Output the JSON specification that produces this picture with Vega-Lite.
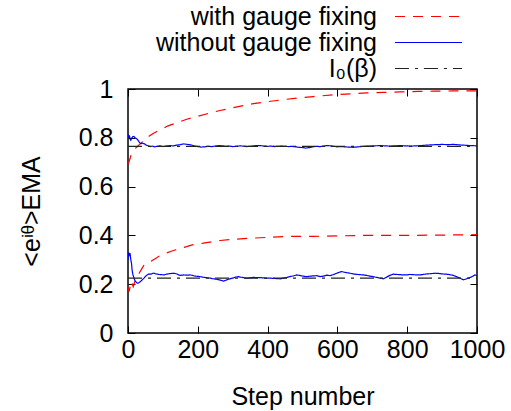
{
  "$schema": "https://vega.github.io/schema/vega-lite/v6.json",
  "width": 349,
  "height": 244,
  "autosize": {"type": "none"},
  "padding": {"left": 128, "top": 89, "right": 34, "bottom": 78},
  "config": {
    "font": "Liberation Sans",
    "view": {"stroke": "#000000", "strokeWidth": 1.5},
    "axis": {
      "grid": false,
      "domain": false,
      "tickColor": "#000000",
      "tickSize": -7,
      "tickWidth": 1,
      "labelOverlap": false,
      "labelFlush": false,
      "labelFont": "Liberation Sans",
      "labelFontSize": 25,
      "labelColor": "#000000",
      "titleFont": "Liberation Sans",
      "titleFontSize": 25,
      "titleFontWeight": "normal",
      "titleColor": "#000000"
    }
  },
  "data": {
    "values": [
      {"s":"with gauge fixing","g":"hi","x":0,"y":0.69},{"s":"with gauge fixing","g":"hi","x":3,"y":0.703},{"s":"with gauge fixing","g":"hi","x":6,"y":0.715},{"s":"with gauge fixing","g":"hi","x":9,"y":0.731},{"s":"with gauge fixing","g":"hi","x":12,"y":0.738},{"s":"with gauge fixing","g":"hi","x":16,"y":0.745},{"s":"with gauge fixing","g":"hi","x":22,"y":0.758},{"s":"with gauge fixing","g":"hi","x":29,"y":0.768},{"s":"with gauge fixing","g":"hi","x":36,"y":0.776},{"s":"with gauge fixing","g":"hi","x":46,"y":0.79},{"s":"with gauge fixing","g":"hi","x":60,"y":0.806},{"s":"with gauge fixing","g":"hi","x":72,"y":0.818},{"s":"with gauge fixing","g":"hi","x":84,"y":0.827},{"s":"with gauge fixing","g":"hi","x":100,"y":0.838},{"s":"with gauge fixing","g":"hi","x":113,"y":0.848},{"s":"with gauge fixing","g":"hi","x":141,"y":0.862},{"s":"with gauge fixing","g":"hi","x":168,"y":0.876},{"s":"with gauge fixing","g":"hi","x":200,"y":0.888},{"s":"with gauge fixing","g":"hi","x":230,"y":0.9},{"s":"with gauge fixing","g":"hi","x":264,"y":0.912},{"s":"with gauge fixing","g":"hi","x":300,"y":0.923},{"s":"with gauge fixing","g":"hi","x":330,"y":0.932},{"s":"with gauge fixing","g":"hi","x":359,"y":0.94},{"s":"with gauge fixing","g":"hi","x":400,"y":0.948},{"s":"with gauge fixing","g":"hi","x":455,"y":0.958},{"s":"with gauge fixing","g":"hi","x":493,"y":0.964},{"s":"with gauge fixing","g":"hi","x":531,"y":0.969},{"s":"with gauge fixing","g":"hi","x":588,"y":0.976},{"s":"with gauge fixing","g":"hi","x":640,"y":0.98},{"s":"with gauge fixing","g":"hi","x":684,"y":0.984},{"s":"with gauge fixing","g":"hi","x":730,"y":0.986},{"s":"with gauge fixing","g":"hi","x":779,"y":0.988},{"s":"with gauge fixing","g":"hi","x":830,"y":0.99},{"s":"with gauge fixing","g":"hi","x":875,"y":0.991},{"s":"with gauge fixing","g":"hi","x":930,"y":0.992},{"s":"with gauge fixing","g":"hi","x":1000,"y":0.992},
      {"s":"with gauge fixing","g":"lo","x":0,"y":0.19},{"s":"with gauge fixing","g":"lo","x":3,"y":0.17},{"s":"with gauge fixing","g":"lo","x":6,"y":0.19},{"s":"with gauge fixing","g":"lo","x":8,"y":0.177},{"s":"with gauge fixing","g":"lo","x":10,"y":0.195},{"s":"with gauge fixing","g":"lo","x":12,"y":0.2},{"s":"with gauge fixing","g":"lo","x":15,"y":0.19},{"s":"with gauge fixing","g":"lo","x":18,"y":0.205},{"s":"with gauge fixing","g":"lo","x":22,"y":0.218},{"s":"with gauge fixing","g":"lo","x":27,"y":0.232},{"s":"with gauge fixing","g":"lo","x":32,"y":0.245},{"s":"with gauge fixing","g":"lo","x":39,"y":0.262},{"s":"with gauge fixing","g":"lo","x":46,"y":0.279},{"s":"with gauge fixing","g":"lo","x":55,"y":0.287},{"s":"with gauge fixing","g":"lo","x":65,"y":0.293},{"s":"with gauge fixing","g":"lo","x":80,"y":0.306},{"s":"with gauge fixing","g":"lo","x":94,"y":0.32},{"s":"with gauge fixing","g":"lo","x":108,"y":0.327},{"s":"with gauge fixing","g":"lo","x":122,"y":0.334},{"s":"with gauge fixing","g":"lo","x":137,"y":0.341},{"s":"with gauge fixing","g":"lo","x":151,"y":0.348},{"s":"with gauge fixing","g":"lo","x":168,"y":0.354},{"s":"with gauge fixing","g":"lo","x":184,"y":0.361},{"s":"with gauge fixing","g":"lo","x":216,"y":0.368},{"s":"with gauge fixing","g":"lo","x":240,"y":0.374},{"s":"with gauge fixing","g":"lo","x":264,"y":0.379},{"s":"with gauge fixing","g":"lo","x":300,"y":0.384},{"s":"with gauge fixing","g":"lo","x":359,"y":0.389},{"s":"with gauge fixing","g":"lo","x":400,"y":0.392},{"s":"with gauge fixing","g":"lo","x":455,"y":0.396},{"s":"with gauge fixing","g":"lo","x":493,"y":0.396},{"s":"with gauge fixing","g":"lo","x":531,"y":0.396},{"s":"with gauge fixing","g":"lo","x":600,"y":0.398},{"s":"with gauge fixing","g":"lo","x":684,"y":0.4},{"s":"with gauge fixing","g":"lo","x":779,"y":0.4},{"s":"with gauge fixing","g":"lo","x":880,"y":0.401},{"s":"with gauge fixing","g":"lo","x":1000,"y":0.403},
      {"s":"without gauge fixing","g":"hi","x":0,"y":0.815},{"s":"without gauge fixing","g":"hi","x":2,"y":0.8},{"s":"without gauge fixing","g":"hi","x":4,"y":0.81},{"s":"without gauge fixing","g":"hi","x":6,"y":0.795},{"s":"without gauge fixing","g":"hi","x":8,"y":0.79},{"s":"without gauge fixing","g":"hi","x":11,"y":0.8},{"s":"without gauge fixing","g":"hi","x":14,"y":0.805},{"s":"without gauge fixing","g":"hi","x":17,"y":0.806},{"s":"without gauge fixing","g":"hi","x":20,"y":0.8},{"s":"without gauge fixing","g":"hi","x":23,"y":0.798},{"s":"without gauge fixing","g":"hi","x":27,"y":0.793},{"s":"without gauge fixing","g":"hi","x":31,"y":0.785},{"s":"without gauge fixing","g":"hi","x":36,"y":0.776},{"s":"without gauge fixing","g":"hi","x":41,"y":0.778},{"s":"without gauge fixing","g":"hi","x":46,"y":0.776},{"s":"without gauge fixing","g":"hi","x":52,"y":0.77},{"s":"without gauge fixing","g":"hi","x":58,"y":0.767},{"s":"without gauge fixing","g":"hi","x":64,"y":0.764},{"s":"without gauge fixing","g":"hi","x":70,"y":0.766},{"s":"without gauge fixing","g":"hi","x":76,"y":0.763},{"s":"without gauge fixing","g":"hi","x":84,"y":0.765},{"s":"without gauge fixing","g":"hi","x":92,"y":0.767},{"s":"without gauge fixing","g":"hi","x":100,"y":0.764},{"s":"without gauge fixing","g":"hi","x":110,"y":0.766},{"s":"without gauge fixing","g":"hi","x":120,"y":0.768},{"s":"without gauge fixing","g":"hi","x":130,"y":0.767},{"s":"without gauge fixing","g":"hi","x":140,"y":0.77},{"s":"without gauge fixing","g":"hi","x":150,"y":0.772},{"s":"without gauge fixing","g":"hi","x":160,"y":0.775},{"s":"without gauge fixing","g":"hi","x":170,"y":0.773},{"s":"without gauge fixing","g":"hi","x":180,"y":0.771},{"s":"without gauge fixing","g":"hi","x":190,"y":0.767},{"s":"without gauge fixing","g":"hi","x":200,"y":0.764},{"s":"without gauge fixing","g":"hi","x":210,"y":0.762},{"s":"without gauge fixing","g":"hi","x":220,"y":0.763},{"s":"without gauge fixing","g":"hi","x":230,"y":0.765},{"s":"without gauge fixing","g":"hi","x":240,"y":0.764},{"s":"without gauge fixing","g":"hi","x":250,"y":0.766},{"s":"without gauge fixing","g":"hi","x":260,"y":0.768},{"s":"without gauge fixing","g":"hi","x":270,"y":0.767},{"s":"without gauge fixing","g":"hi","x":280,"y":0.765},{"s":"without gauge fixing","g":"hi","x":290,"y":0.766},{"s":"without gauge fixing","g":"hi","x":300,"y":0.764},{"s":"without gauge fixing","g":"hi","x":310,"y":0.765},{"s":"without gauge fixing","g":"hi","x":320,"y":0.767},{"s":"without gauge fixing","g":"hi","x":330,"y":0.766},{"s":"without gauge fixing","g":"hi","x":340,"y":0.764},{"s":"without gauge fixing","g":"hi","x":350,"y":0.765},{"s":"without gauge fixing","g":"hi","x":360,"y":0.767},{"s":"without gauge fixing","g":"hi","x":370,"y":0.768},{"s":"without gauge fixing","g":"hi","x":380,"y":0.768},{"s":"without gauge fixing","g":"hi","x":390,"y":0.766},{"s":"without gauge fixing","g":"hi","x":400,"y":0.765},{"s":"without gauge fixing","g":"hi","x":410,"y":0.766},{"s":"without gauge fixing","g":"hi","x":420,"y":0.764},{"s":"without gauge fixing","g":"hi","x":430,"y":0.765},{"s":"without gauge fixing","g":"hi","x":440,"y":0.766},{"s":"without gauge fixing","g":"hi","x":450,"y":0.765},{"s":"without gauge fixing","g":"hi","x":460,"y":0.764},{"s":"without gauge fixing","g":"hi","x":470,"y":0.765},{"s":"without gauge fixing","g":"hi","x":480,"y":0.763},{"s":"without gauge fixing","g":"hi","x":490,"y":0.761},{"s":"without gauge fixing","g":"hi","x":500,"y":0.76},{"s":"without gauge fixing","g":"hi","x":510,"y":0.758},{"s":"without gauge fixing","g":"hi","x":520,"y":0.76},{"s":"without gauge fixing","g":"hi","x":530,"y":0.763},{"s":"without gauge fixing","g":"hi","x":541,"y":0.765},{"s":"without gauge fixing","g":"hi","x":550,"y":0.764},{"s":"without gauge fixing","g":"hi","x":560,"y":0.766},{"s":"without gauge fixing","g":"hi","x":570,"y":0.768},{"s":"without gauge fixing","g":"hi","x":580,"y":0.767},{"s":"without gauge fixing","g":"hi","x":590,"y":0.765},{"s":"without gauge fixing","g":"hi","x":600,"y":0.763},{"s":"without gauge fixing","g":"hi","x":610,"y":0.764},{"s":"without gauge fixing","g":"hi","x":620,"y":0.763},{"s":"without gauge fixing","g":"hi","x":630,"y":0.762},{"s":"without gauge fixing","g":"hi","x":645,"y":0.761},{"s":"without gauge fixing","g":"hi","x":660,"y":0.763},{"s":"without gauge fixing","g":"hi","x":675,"y":0.765},{"s":"without gauge fixing","g":"hi","x":690,"y":0.766},{"s":"without gauge fixing","g":"hi","x":705,"y":0.767},{"s":"without gauge fixing","g":"hi","x":722,"y":0.768},{"s":"without gauge fixing","g":"hi","x":735,"y":0.767},{"s":"without gauge fixing","g":"hi","x":750,"y":0.766},{"s":"without gauge fixing","g":"hi","x":765,"y":0.767},{"s":"without gauge fixing","g":"hi","x":780,"y":0.768},{"s":"without gauge fixing","g":"hi","x":795,"y":0.767},{"s":"without gauge fixing","g":"hi","x":810,"y":0.766},{"s":"without gauge fixing","g":"hi","x":825,"y":0.767},{"s":"without gauge fixing","g":"hi","x":840,"y":0.768},{"s":"without gauge fixing","g":"hi","x":855,"y":0.77},{"s":"without gauge fixing","g":"hi","x":870,"y":0.771},{"s":"without gauge fixing","g":"hi","x":884,"y":0.772},{"s":"without gauge fixing","g":"hi","x":900,"y":0.773},{"s":"without gauge fixing","g":"hi","x":915,"y":0.772},{"s":"without gauge fixing","g":"hi","x":932,"y":0.773},{"s":"without gauge fixing","g":"hi","x":950,"y":0.771},{"s":"without gauge fixing","g":"hi","x":970,"y":0.769},{"s":"without gauge fixing","g":"hi","x":985,"y":0.768},{"s":"without gauge fixing","g":"hi","x":1000,"y":0.767},
      {"s":"without gauge fixing","g":"lo","x":0,"y":0.3},{"s":"without gauge fixing","g":"lo","x":2,"y":0.33},{"s":"without gauge fixing","g":"lo","x":4,"y":0.32},{"s":"without gauge fixing","g":"lo","x":6,"y":0.327},{"s":"without gauge fixing","g":"lo","x":8,"y":0.3},{"s":"without gauge fixing","g":"lo","x":10,"y":0.286},{"s":"without gauge fixing","g":"lo","x":12,"y":0.255},{"s":"without gauge fixing","g":"lo","x":14,"y":0.24},{"s":"without gauge fixing","g":"lo","x":17,"y":0.225},{"s":"without gauge fixing","g":"lo","x":20,"y":0.215},{"s":"without gauge fixing","g":"lo","x":22,"y":0.211},{"s":"without gauge fixing","g":"lo","x":25,"y":0.206},{"s":"without gauge fixing","g":"lo","x":27,"y":0.204},{"s":"without gauge fixing","g":"lo","x":30,"y":0.205},{"s":"without gauge fixing","g":"lo","x":33,"y":0.208},{"s":"without gauge fixing","g":"lo","x":36,"y":0.211},{"s":"without gauge fixing","g":"lo","x":40,"y":0.217},{"s":"without gauge fixing","g":"lo","x":46,"y":0.225},{"s":"without gauge fixing","g":"lo","x":50,"y":0.232},{"s":"without gauge fixing","g":"lo","x":55,"y":0.238},{"s":"without gauge fixing","g":"lo","x":60,"y":0.242},{"s":"without gauge fixing","g":"lo","x":65,"y":0.241},{"s":"without gauge fixing","g":"lo","x":70,"y":0.244},{"s":"without gauge fixing","g":"lo","x":74,"y":0.245},{"s":"without gauge fixing","g":"lo","x":80,"y":0.242},{"s":"without gauge fixing","g":"lo","x":88,"y":0.24},{"s":"without gauge fixing","g":"lo","x":96,"y":0.239},{"s":"without gauge fixing","g":"lo","x":103,"y":0.238},{"s":"without gauge fixing","g":"lo","x":110,"y":0.241},{"s":"without gauge fixing","g":"lo","x":118,"y":0.243},{"s":"without gauge fixing","g":"lo","x":125,"y":0.244},{"s":"without gauge fixing","g":"lo","x":132,"y":0.245},{"s":"without gauge fixing","g":"lo","x":140,"y":0.242},{"s":"without gauge fixing","g":"lo","x":149,"y":0.236},{"s":"without gauge fixing","g":"lo","x":160,"y":0.238},{"s":"without gauge fixing","g":"lo","x":170,"y":0.237},{"s":"without gauge fixing","g":"lo","x":178,"y":0.238},{"s":"without gauge fixing","g":"lo","x":185,"y":0.236},{"s":"without gauge fixing","g":"lo","x":192,"y":0.233},{"s":"without gauge fixing","g":"lo","x":200,"y":0.232},{"s":"without gauge fixing","g":"lo","x":206,"y":0.231},{"s":"without gauge fixing","g":"lo","x":214,"y":0.229},{"s":"without gauge fixing","g":"lo","x":222,"y":0.227},{"s":"without gauge fixing","g":"lo","x":230,"y":0.226},{"s":"without gauge fixing","g":"lo","x":235,"y":0.225},{"s":"without gauge fixing","g":"lo","x":242,"y":0.223},{"s":"without gauge fixing","g":"lo","x":250,"y":0.221},{"s":"without gauge fixing","g":"lo","x":258,"y":0.219},{"s":"without gauge fixing","g":"lo","x":264,"y":0.217},{"s":"without gauge fixing","g":"lo","x":268,"y":0.215},{"s":"without gauge fixing","g":"lo","x":273,"y":0.213},{"s":"without gauge fixing","g":"lo","x":278,"y":0.215},{"s":"without gauge fixing","g":"lo","x":285,"y":0.219},{"s":"without gauge fixing","g":"lo","x":292,"y":0.222},{"s":"without gauge fixing","g":"lo","x":300,"y":0.225},{"s":"without gauge fixing","g":"lo","x":308,"y":0.229},{"s":"without gauge fixing","g":"lo","x":316,"y":0.231},{"s":"without gauge fixing","g":"lo","x":322,"y":0.229},{"s":"without gauge fixing","g":"lo","x":330,"y":0.227},{"s":"without gauge fixing","g":"lo","x":340,"y":0.225},{"s":"without gauge fixing","g":"lo","x":350,"y":0.226},{"s":"without gauge fixing","g":"lo","x":360,"y":0.228},{"s":"without gauge fixing","g":"lo","x":370,"y":0.227},{"s":"without gauge fixing","g":"lo","x":378,"y":0.227},{"s":"without gauge fixing","g":"lo","x":386,"y":0.226},{"s":"without gauge fixing","g":"lo","x":395,"y":0.225},{"s":"without gauge fixing","g":"lo","x":407,"y":0.225},{"s":"without gauge fixing","g":"lo","x":415,"y":0.224},{"s":"without gauge fixing","g":"lo","x":425,"y":0.223},{"s":"without gauge fixing","g":"lo","x":436,"y":0.222},{"s":"without gauge fixing","g":"lo","x":445,"y":0.225},{"s":"without gauge fixing","g":"lo","x":455,"y":0.228},{"s":"without gauge fixing","g":"lo","x":464,"y":0.231},{"s":"without gauge fixing","g":"lo","x":474,"y":0.234},{"s":"without gauge fixing","g":"lo","x":483,"y":0.238},{"s":"without gauge fixing","g":"lo","x":492,"y":0.236},{"s":"without gauge fixing","g":"lo","x":502,"y":0.233},{"s":"without gauge fixing","g":"lo","x":512,"y":0.231},{"s":"without gauge fixing","g":"lo","x":522,"y":0.233},{"s":"without gauge fixing","g":"lo","x":531,"y":0.234},{"s":"without gauge fixing","g":"lo","x":541,"y":0.235},{"s":"without gauge fixing","g":"lo","x":550,"y":0.231},{"s":"without gauge fixing","g":"lo","x":560,"y":0.233},{"s":"without gauge fixing","g":"lo","x":570,"y":0.237},{"s":"without gauge fixing","g":"lo","x":579,"y":0.235},{"s":"without gauge fixing","g":"lo","x":590,"y":0.24},{"s":"without gauge fixing","g":"lo","x":600,"y":0.246},{"s":"without gauge fixing","g":"lo","x":612,"y":0.252},{"s":"without gauge fixing","g":"lo","x":620,"y":0.249},{"s":"without gauge fixing","g":"lo","x":628,"y":0.247},{"s":"without gauge fixing","g":"lo","x":636,"y":0.245},{"s":"without gauge fixing","g":"lo","x":646,"y":0.242},{"s":"without gauge fixing","g":"lo","x":656,"y":0.24},{"s":"without gauge fixing","g":"lo","x":665,"y":0.239},{"s":"without gauge fixing","g":"lo","x":674,"y":0.238},{"s":"without gauge fixing","g":"lo","x":684,"y":0.236},{"s":"without gauge fixing","g":"lo","x":693,"y":0.233},{"s":"without gauge fixing","g":"lo","x":702,"y":0.231},{"s":"without gauge fixing","g":"lo","x":712,"y":0.228},{"s":"without gauge fixing","g":"lo","x":722,"y":0.225},{"s":"without gauge fixing","g":"lo","x":732,"y":0.222},{"s":"without gauge fixing","g":"lo","x":740,"y":0.228},{"s":"without gauge fixing","g":"lo","x":750,"y":0.236},{"s":"without gauge fixing","g":"lo","x":760,"y":0.241},{"s":"without gauge fixing","g":"lo","x":770,"y":0.24},{"s":"without gauge fixing","g":"lo","x":780,"y":0.239},{"s":"without gauge fixing","g":"lo","x":790,"y":0.238},{"s":"without gauge fixing","g":"lo","x":798,"y":0.238},{"s":"without gauge fixing","g":"lo","x":808,"y":0.24},{"s":"without gauge fixing","g":"lo","x":818,"y":0.239},{"s":"without gauge fixing","g":"lo","x":828,"y":0.238},{"s":"without gauge fixing","g":"lo","x":836,"y":0.238},{"s":"without gauge fixing","g":"lo","x":846,"y":0.24},{"s":"without gauge fixing","g":"lo","x":856,"y":0.242},{"s":"without gauge fixing","g":"lo","x":866,"y":0.243},{"s":"without gauge fixing","g":"lo","x":880,"y":0.245},{"s":"without gauge fixing","g":"lo","x":890,"y":0.244},{"s":"without gauge fixing","g":"lo","x":900,"y":0.242},{"s":"without gauge fixing","g":"lo","x":913,"y":0.241},{"s":"without gauge fixing","g":"lo","x":922,"y":0.239},{"s":"without gauge fixing","g":"lo","x":932,"y":0.236},{"s":"without gauge fixing","g":"lo","x":941,"y":0.231},{"s":"without gauge fixing","g":"lo","x":948,"y":0.227},{"s":"without gauge fixing","g":"lo","x":955,"y":0.222},{"s":"without gauge fixing","g":"lo","x":961,"y":0.218},{"s":"without gauge fixing","g":"lo","x":968,"y":0.221},{"s":"without gauge fixing","g":"lo","x":975,"y":0.225},{"s":"without gauge fixing","g":"lo","x":983,"y":0.229},{"s":"without gauge fixing","g":"lo","x":990,"y":0.234},{"s":"without gauge fixing","g":"lo","x":994,"y":0.238},{"s":"without gauge fixing","g":"lo","x":1000,"y":0.236},
      {"s":"I₀(β)","g":"hi","x":0,"y":0.765},{"s":"I₀(β)","g":"hi","x":1000,"y":0.765},
      {"s":"I₀(β)","g":"lo","x":0,"y":0.2246},{"s":"I₀(β)","g":"lo","x":1000,"y":0.2246}
    ]
  },
  "layer": [
    {
      "mark": {"type": "line", "clip": true},
      "encoding": {
        "x": {"field": "x", "type": "quantitative", "scale": {"domain": [0, 1000], "nice": false}, "axis": {"orient": "bottom", "values": [0, 200, 400, 600, 800, 1000], "format": "d", "title": "Step number", "labelPadding": 11, "titlePadding": 22}},
        "y": {"field": "y", "type": "quantitative", "scale": {"domain": [0, 1], "nice": false}, "axis": {"orient": "left", "values": [0, 0.2, 0.4, 0.6, 0.8, 1], "format": "~g", "title": "<eⁱᶿ>EMA", "labelPadding": 22, "titlePadding": 34}},
        "color": {"field": "s", "type": "nominal", "title": null, "scale": {"domain": ["with gauge fixing", "without gauge fixing", "I₀(β)"], "range": ["#ff0000", "#0000ff", "#222222"]},
          "legend": {"orient": "none", "legendX": 288, "legendY": -85, "labelAlign": "right", "labelOffset": -64, "symbolType": "M-5,0H5", "symbolSize": 180, "symbolStrokeWidth": 1.3, "labelFont": "Liberation Sans", "labelFontSize": 25, "labelColor": "#000000", "rowPadding": 0, "labelLimit": 400}},
        "strokeDash": {"field": "s", "type": "nominal", "title": null, "scale": {"domain": ["with gauge fixing", "without gauge fixing", "I₀(β)"], "range": [[10, 8], [1, 0], [14, 6, 3, 6]]}},
        "strokeWidth": {"field": "s", "type": "nominal", "legend": null, "scale": {"domain": ["with gauge fixing", "without gauge fixing", "I₀(β)"], "range": [1.2, 1.2, 2]}},
        "detail": {"field": "g"}
      }
    },
    {
      "mark": {"type": "line", "opacity": 0},
      "encoding": {
        "x": {"field": "x", "type": "quantitative", "axis": {"orient": "top", "values": [0, 200, 400, 600, 800, 1000], "labels": false, "title": null}},
        "y": {"field": "y", "type": "quantitative", "axis": {"orient": "right", "values": [0, 0.2, 0.4, 0.6, 0.8, 1], "labels": false, "title": null}},
        "detail": {"field": "g"}
      }
    }
  ],
  "resolve": {"axis": {"x": "independent", "y": "independent"}}
}
